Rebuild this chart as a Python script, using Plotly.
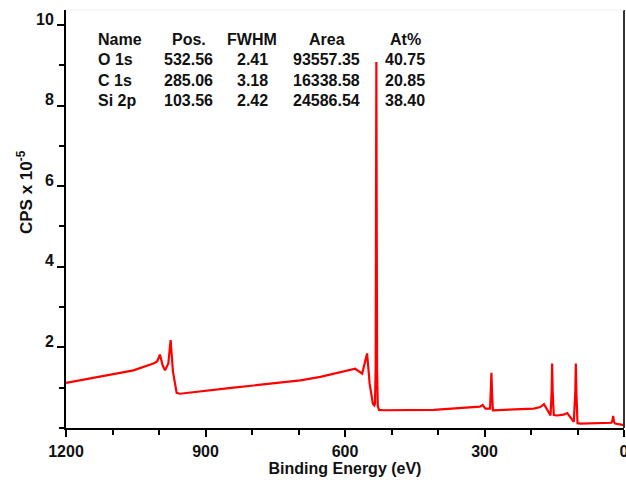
import plotly.graph_objects as go

# XPS survey spectrum: binding energy (eV) vs counts (CPS x 10^-5)
binding_energy = [
    1200, 1127, 1055, 1012, 1004, 998, 992, 987, 980, 975, 970, 962, 955,
    840, 696, 653, 578, 563, 552.5, 547, 540, 537,
    535.5, 534, 533.2, 532.56, 531.9, 531, 529.5, 527, 517,
    409, 350, 310, 304, 298, 288, 286.3, 285.06, 283.8, 282,
    194, 180, 172, 165, 158, 155.6, 154.5, 153.4, 151, 143.5, 130, 122, 115, 108,
    104.7, 103.56, 102.4, 100, 93, 50, 27, 24.5, 23.3, 21.5, 19, 0,
]
cps = [
    1.12, 1.28, 1.43, 1.60, 1.65, 1.82, 1.55, 1.43, 1.60, 2.18, 1.40, 0.87, 0.85,
    1.00, 1.18, 1.27, 1.47, 1.35, 1.85, 1.10, 0.60, 0.56,
    0.60, 1.50, 5.50, 9.08, 5.50, 1.50, 0.55, 0.45, 0.44,
    0.45, 0.50, 0.53, 0.57, 0.48, 0.48, 0.90, 1.37, 0.90, 0.44,
    0.48, 0.52, 0.59, 0.45, 0.31, 0.90, 1.60, 0.90, 0.32, 0.31, 0.33, 0.37, 0.25, 0.15,
    0.90, 1.60, 0.90, 0.12, 0.11, 0.12, 0.13, 0.20, 0.30, 0.15, 0.11, 0.07,
]

# Quantification table
table_header = ["Name", "Pos.", "FWHM", "Area", "At%"]
peak_names = ["O 1s", "C 1s", "Si 2p"]
peak_pos = [532.56, 285.06, 103.56]
peak_fwhm = [2.41, 3.18, 2.42]
peak_area = [93557.35, 16338.58, 24586.54]
peak_at = [40.75, 20.85, 38.40]

x_ticks = [1200, 900, 600, 300, 0]
y_ticks = [2, 4, 6, 8, 10]

W, H = 626, 483
ML, MR, MT, MB = 66, 2, 10, 55
PW, PH = W - ML - MR, H - MT - MB

FONT = "Liberation Sans, Arial, sans-serif"
TXT = "#111111"


def px_x(px):
    return (px - ML) / PW


def px_y(py):
    return (H - MB - py) / PH


fig = go.Figure()
fig.add_trace(go.Scatter(
    x=binding_energy, y=cps, mode="lines",
    line=dict(color="#ff0000", width=2.2),
    hoverinfo="skip", showlegend=False,
))

annotations = []
col_x = [95.7, 188.5, 252, 326.5, 405]
row_y = [39.3, 60, 80.7, 101]


def cell(text, col, row):
    left = col == 0
    annotations.append(dict(
        text=f"<b>{text}</b>", xref="paper", yref="paper",
        x=px_x(col_x[col]), y=px_y(row_y[row]),
        xanchor="left" if left else "center", yanchor="middle",
        showarrow=False, font=dict(family=FONT, size=16, color=TXT),
    ))


for c, h in enumerate(table_header):
    cell(h, c, 0)
for r in range(len(peak_names)):
    cell(peak_names[r], 0, r + 1)
    cell(f"{peak_pos[r]:.2f}", 1, r + 1)
    cell(f"{peak_fwhm[r]:.2f}", 2, r + 1)
    cell(f"{peak_area[r]:.2f}", 3, r + 1)
    cell(f"{peak_at[r]:.2f}", 4, r + 1)

# rotated y-axis title
annotations.append(dict(
    text="<b>CPS x 10<sup>-5</sup></b>", xref="paper", yref="paper",
    x=px_x(25), y=px_y(192), xanchor="center", yanchor="middle",
    textangle=-90, showarrow=False,
    font=dict(family=FONT, size=17, color=TXT),
))

fig.update_layout(
    width=W, height=H,
    margin=dict(l=ML, r=MR, t=MT, b=MB),
    paper_bgcolor="white", plot_bgcolor="white",
    font=dict(family=FONT, size=16, color=TXT),
    annotations=annotations,
    shapes=[
        dict(type="line", xref="paper", yref="paper", x0=1, x1=1, y0=0, y1=1,
             line=dict(color="#333333", width=2)),
        dict(type="line", xref="paper", yref="paper", x0=0, x1=1, y0=1, y1=1,
             line=dict(color="#f0f0f0", width=1)),
    ],
    xaxis=dict(
        range=[1200, 0], tickmode="array", tickvals=x_ticks,
        ticktext=[f"<b>{v}</b>" for v in x_ticks],
        ticks="outside", ticklen=7, tickwidth=2, tickcolor="black",
        showline=True, linecolor="black", linewidth=2,
        showgrid=False, zeroline=False, automargin=False,
        ticklabelstandoff=1, ticklabeloverflow="allow",
        minor=dict(tickmode="linear", tick0=0, dtick=100, ticks="outside",
                   ticklen=5, tickwidth=2, tickcolor="black", showgrid=False),
        title=dict(text="<b>Binding Energy (eV)</b>", standoff=4,
                   font=dict(family=FONT, size=16, color=TXT)),
    ),
    yaxis=dict(
        range=[0, 10.37], tickmode="array", tickvals=y_ticks,
        ticktext=[f"<b>{v}</b>" for v in y_ticks],
        ticks="outside", ticklen=7, tickwidth=2, tickcolor="black",
        showline=True, linecolor="black", linewidth=2,
        showgrid=False, zeroline=False, automargin=False,
        ticklabelshift=-6, ticklabelstandoff=0,
        minor=dict(tickmode="linear", tick0=0, dtick=1, ticks="outside",
                   ticklen=5, tickwidth=2, tickcolor="black", showgrid=False),
    ),
)

fig.write_html("out.html")
